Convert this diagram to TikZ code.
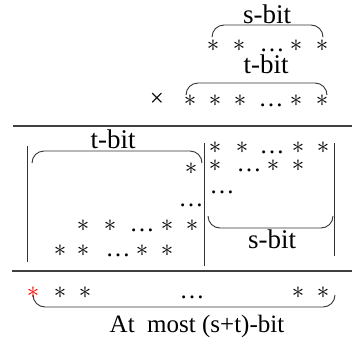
\documentclass[tikz,border=0pt]{standalone}
\usepackage{fontspec}
\setmainfont{Liberation Serif}
\begin{document}
\begin{tikzpicture}[x=1pt,y=-1pt,
  txt/.style={inner sep=0pt,anchor=base,font=\fontsize{25}{30}\selectfont},
  lbl/.style={inner sep=0pt,anchor=base,font=\fontsize{27}{30}\selectfont},
  st/.style={inner sep=0pt,anchor=base,font=\fontsize{25}{30}\selectfont},
  brace/.style={draw=black!80,line width=0.9pt,rounded corners=12pt},
  hline/.style={draw=black!75,line width=2pt},
  vline/.style={draw=black!80,line width=0.9pt}]
\useasboundingbox (0,0) rectangle (352,340);
\newcommand{\sx}{$\ast$}
\newcommand{\dd}{…}
% top: s-bit
\node[lbl] (sb1) at (267,23) {s-bit};
\draw[brace] (212,37) -- (212,25) -- (323,25) -- (323,37);
\node[st] (a1) at (213,51) {\sx};
\node[st] (a2) at (239,51) {\sx};
\node[st] (a3) at (272,51) {\dd};
\node[st] (a4) at (296,51) {\sx};
\node[st] (a5) at (322,51) {\sx};
% t-bit
\node[lbl] (tb1) at (266,73) {t-bit};
\draw[brace] (186,95) -- (186,83) -- (327,83) -- (327,95);
\node[txt] (x) at (157,106) {×};
\node[st] (b1) at (190,106) {\sx};
\node[st] (b2) at (215,106) {\sx};
\node[st] (b3) at (240,106) {\sx};
\node[st] (b4) at (271,106) {\dd};
\node[st] (b5) at (296,106) {\sx};
\node[st] (b6) at (322,106) {\sx};
% line 1
\coordinate (l1a) at (13,126);
\coordinate (l1b) at (352,126);
\draw[hline] (l1a) -- (l1b);
% verticals
\coordinate (v1a) at (27,146); \coordinate (v1b) at (27,262);
\coordinate (v2a) at (204,143); \coordinate (v2b) at (204,266);
\coordinate (v3a) at (334,143); \coordinate (v3b) at (334,256);
\draw[vline] (v1a) -- (v1b);
\draw[vline] (v2a) -- (v2b);
\draw[vline] (v3a) -- (v3b);
% left block
\node[lbl] (tb2) at (113,148) {t-bit};
\draw[brace] (32,163) -- (32,151) -- (202,151) -- (202,163);
\node[st] (c1) at (191,174) {\sx};
\node[st] (c2) at (191,206) {\dd};
\node[st] (d1) at (83,231) {\sx};
\node[st] (d2) at (110,231) {\sx};
\node[st] (d3) at (142,231) {\dd};
\node[st] (d4) at (167,231) {\sx};
\node[st] (d5) at (192,231) {\sx};
\node[st] (e1) at (60,256) {\sx};
\node[st] (e2) at (83,256) {\sx};
\node[st] (e3) at (118,256) {\dd};
\node[st] (e4) at (142,256) {\sx};
\node[st] (e5) at (167,256) {\sx};
% right block
\node[st] (f1) at (215,153) {\sx};
\node[st] (f2) at (242,153) {\sx};
\node[st] (f3) at (272,153) {\dd};
\node[st] (f4) at (298,153) {\sx};
\node[st] (f5) at (323,153) {\sx};
\node[st] (g1) at (215,171) {\sx};
\node[st] (g2) at (249,171) {\dd};
\node[st] (g3) at (273,171) {\sx};
\node[st] (g4) at (298,171) {\sx};
\node[st] (h1) at (222,193) {\dd};
\draw[brace] (208,217) -- (208,228) -- (333,228) -- (333,217);
\node[lbl] (sb2) at (272,248) {s-bit};
% line 2
\coordinate (l2a) at (12,271);
\coordinate (l2b) at (352,271);
\draw[hline] (l2a) -- (l2b);
% bottom
\node[st,text=red] (r1) at (33,298) {\sx};
\node[st] (r2) at (60,298) {\sx};
\node[st] (r3) at (85,298) {\sx};
\node[st] (r4) at (192,298) {\dd};
\node[st] (r5) at (298,298) {\sx};
\node[st] (r6) at (323,298) {\sx};
\draw[brace] (33,295) -- (33,307) -- (335,307) -- (335,295);
\node[txt] (am) at (197,332) {At\ \ most (s+t)-bit};
\end{tikzpicture}
\end{document}
